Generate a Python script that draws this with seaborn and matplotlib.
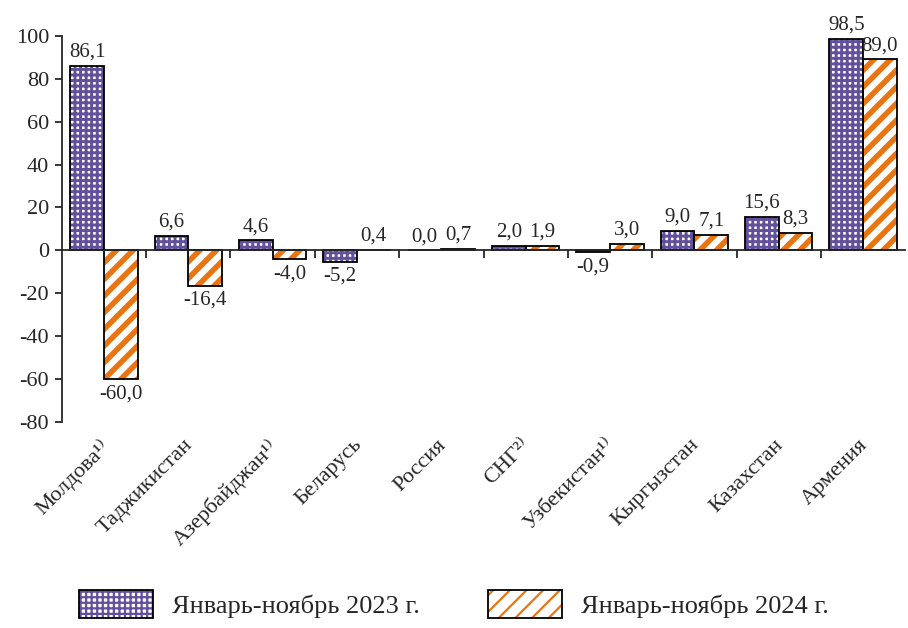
import matplotlib
matplotlib.use("Agg")
import matplotlib.pyplot as plt
import matplotlib.patches as mpatches
import pandas as pd
import seaborn as sns

# данные
страны = ["Молдова¹⁾", "Таджикистан", "Азербайджан¹⁾", "Беларусь", "Россия",
          "СНГ²⁾", "Узбекистан¹⁾", "Кыргызстан", "Казахстан", "Армения"]
значения_2023 = [86.1, 6.6, 4.6, -5.2, 0.0, 2.0, -0.9, 9.0, 15.6, 98.5]
значения_2024 = [-60.0, -16.4, -4.0, 0.4, 0.7, 1.9, 3.0, 7.1, 8.3, 89.0]
серии = ["Январь-ноябрь 2023 г.", "Январь-ноябрь 2024 г."]
y_ticks = [-80, -60, -40, -20, 0, 20, 40, 60, 80, 100]

df = pd.DataFrame({
    "страна": страны * 2,
    "значение": значения_2023 + значения_2024,
    "период": [серии[0]] * len(страны) + [серии[1]] * len(страны),
})

sns.set_style("white")
plt.rcParams["font.family"] = ["Liberation Serif", "DejaVu Serif"]
plt.rcParams["font.size"] = 16
plt.rcParams["hatch.linewidth"] = 1.6

ФИОЛЕТОВЫЙ = "#62509a"
ОРАНЖЕВЫЙ = "#e87511"
стили = {серии[0]: (ФИОЛЕТОВЫЙ, "+++", 2.1), серии[1]: (ОРАНЖЕВЫЙ, "//", 4.0)}

fig = plt.figure(figsize=(9.08, 6.28), dpi=100)
ax = fig.add_axes([0.068, 0.328, 0.929, 0.615])

sns.barplot(data=df, x="страна", y="значение", hue="период", hue_order=серии,
            order=страны, ax=ax, legend=False, width=0.8, saturation=1)

n = len(страны)
for i, p in enumerate(ax.patches[: 2 * n]):
    серия = серии[i // n]
    цвет, штрих, lw = стили[серия]
    p.set_facecolor("white")
    p.set_edgecolor(цвет)
    p.set_hatch(штрих)
    p.set_linewidth(0)
    if hasattr(p, "set_hatch_linewidth"):
        p.set_hatch_linewidth(lw)
    # чёрная рамка поверх штриховки
    ax.add_patch(mpatches.Rectangle(p.get_xy(), p.get_width(), p.get_height(),
                                    fill=False, edgecolor="black", linewidth=1.3))
    val = p.get_height()
    xc = p.get_x() + p.get_width() / 2
    txt = f"{val:.1f}".replace(".", ",")
    if val < 0:
        ax.text(xc, val - 2.5, txt, ha="center", va="top", fontsize=15)
    else:
        ax.text(xc, val + 2.0, txt, ha="center", va="bottom", fontsize=15)

ax.set_ylim(-80, 100)
ax.set_xlim(-0.5, n - 0.5)
ax.set_yticks(y_ticks)
ax.set_yticklabels([str(t) for t in y_ticks])
ax.tick_params(axis="y", direction="out", length=5, width=1.3, pad=4, left=True)

# ось X проходит через ноль, деления между категориями
ax.spines["bottom"].set_position(("data", 0))
ax.spines["top"].set_visible(False)
ax.spines["right"].set_visible(False)
ax.spines["left"].set_linewidth(1.3)
ax.spines["bottom"].set_linewidth(1.3)
ax.set_xticks([i + 0.5 for i in range(n - 1)])
ax.set_xticklabels([])
ax.tick_params(axis="x", direction="out", length=6, width=1.3, bottom=True)
ax.set_xlabel("")
ax.set_ylabel("")

# подписи стран под областью графика
for i, s in enumerate(страны):
    ax.text(i - 0.06, -0.035, s, transform=ax.get_xaxis_transform(), rotation=45,
            ha="right", va="top", rotation_mode="anchor")

# легенда: штриховка + чёрная рамка
ручки = []
for серия in серии:
    цвет, штрих, lw = стили[серия]
    h = mpatches.Patch(facecolor="white", edgecolor=цвет, hatch=штрих, linewidth=0)
    if hasattr(h, "set_hatch_linewidth"):
        h.set_hatch_linewidth(lw)
    рамка = mpatches.Patch(facecolor="none", edgecolor="black", linewidth=1.3)
    ручки.append((h, рамка))
fig.legend(ручки, серии, loc="lower center", bbox_to_anchor=(0.5, -0.022),
           ncol=2, frameon=False, handlelength=2.8, handleheight=1.25,
           columnspacing=2.6, handletextpad=0.7, fontsize=19)

fig.savefig("out.png", dpi=100)
